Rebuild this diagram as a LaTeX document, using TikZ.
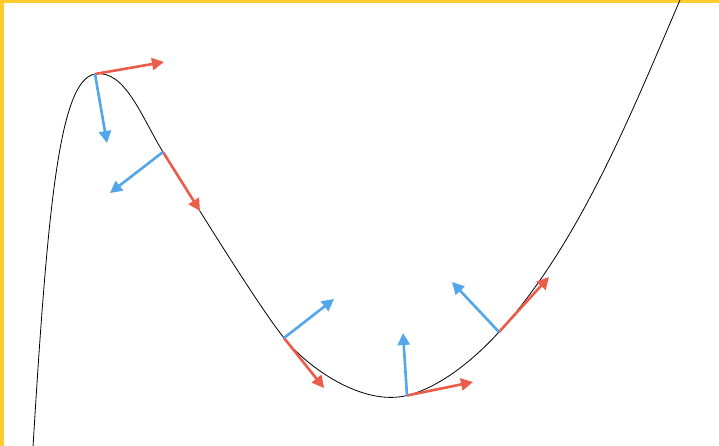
\documentclass[tikz,border=0pt]{standalone}
\usetikzlibrary{arrows.meta}
\definecolor{bordery}{RGB}{255,204,44}
\definecolor{tanred}{RGB}{236,92,74}
\definecolor{normblue}{RGB}{82,166,236}
\begin{document}
\begin{tikzpicture}[x=1pt,y=-1pt,
  tanvec/.style={draw=tanred,line width=2.6pt,-{Triangle[length=12pt,width=12pt]}},
  normvec/.style={draw=normblue,line width=2.6pt,-{Triangle[length=12pt,width=12pt]}},
  curveline/.style={draw=black,line width=0.8pt}]
\useasboundingbox (0,0) rectangle (719,446);
\fill[white] (0,0) rectangle (719,446);
\fill[bordery] (0,0) rectangle (719,3.5);
\fill[bordery] (0,0) rectangle (4,446);
% base points
\coordinate (s) at (33,447);
\coordinate (p1) at (95,74);
\coordinate (p2) at (163,152);
\coordinate (p3) at (284,338);
\coordinate (p4) at (407,395.5);
\coordinate (p5) at (499,332);
\coordinate (e) at (680,0);
% curve
\draw[curveline] (s) .. controls (48,200) and (60,80) .. (p1)
  .. controls (125,69) and (142,118) .. (p2)
  .. controls (187,190) and (256,303) .. (p3)
  .. controls (309,369) and (363.4,406.3) .. (p4)
  .. controls (441,387.1) and (475.5,357.9) .. (p5)
  .. controls (578.5,244.2) and (628.8,119.5) .. (e);
% tips
\coordinate (t1) at (164,62);
\coordinate (n1) at (107,143);
\coordinate (t2) at (200,211);
\coordinate (n2) at (110,193);
\coordinate (t3) at (324,388);
\coordinate (n3) at (334,299);
\coordinate (t4) at (473,382);
\coordinate (n4) at (403,333);
\coordinate (t5) at (549,277);
\coordinate (n5) at (452,282);
\draw[tanvec] (p1) -- (t1);
\draw[normvec] (p1) -- (n1);
\draw[tanvec] (p2) -- (t2);
\draw[normvec] (p2) -- (n2);
\draw[tanvec] (p3) -- (t3);
\draw[normvec] (p3) -- (n3);
\draw[tanvec] (p4) -- (t4);
\draw[normvec] (p4) -- (n4);
\draw[tanvec] (p5) -- (t5);
\draw[normvec] (p5) -- (n5);
\end{tikzpicture}
\end{document}
